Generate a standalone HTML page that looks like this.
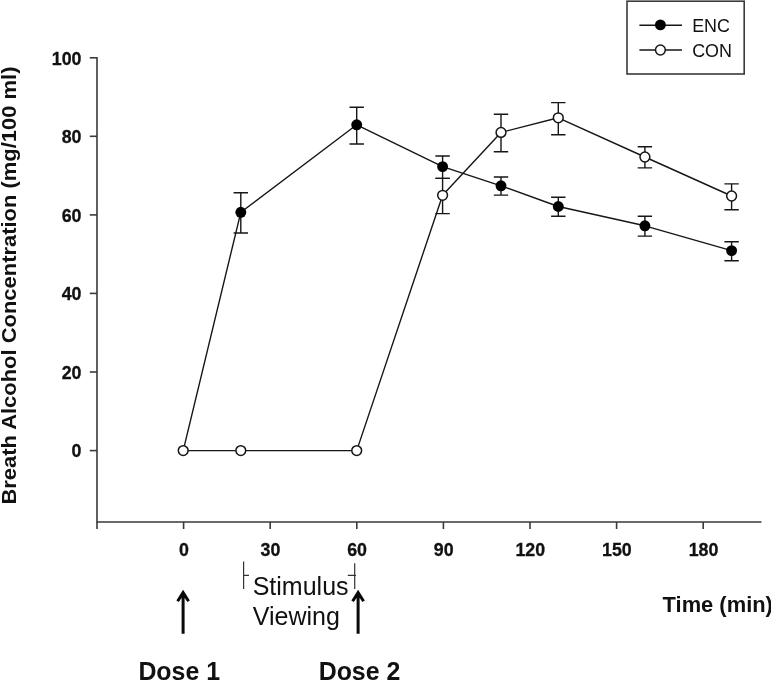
<!DOCTYPE html>
<html><head><meta charset="utf-8"><title>Breath Alcohol Concentration</title>
<style>
html,body{margin:0;padding:0;background:#fff;}
body{width:771px;height:681px;overflow:hidden;}
svg{display:block;}
text{font-family:"Liberation Sans",Arial,Helvetica,sans-serif;fill:#111;}
.b{font-weight:bold;}
.tk{font-size:17.8px;font-weight:bold;stroke:#111;stroke-width:0.3px;}
</style></head><body>
<svg width="771" height="681" viewBox="0 0 771 681">
<rect width="771" height="681" fill="#fff"/>

<g stroke="#3a3a3a" stroke-width="1.6" fill="none">
<path d="M97 57 V522 M96.2 522 H761.5"/>
<path d="M89.8 57.8 H97"/>
<path d="M89.8 136.3 H97"/>
<path d="M89.8 214.9 H97"/>
<path d="M89.8 293.4 H97"/>
<path d="M89.8 372.0 H97"/>
<path d="M89.8 450.6 H97"/>
<path d="M97 522 V529"/>
<path d="M183.6 522 V529"/>
<path d="M270.2 522 V529"/>
<path d="M356.8 522 V529"/>
<path d="M443.4 522 V529"/>
<path d="M530.0 522 V529"/>
<path d="M616.6 522 V529"/>
<path d="M703.2 522 V529"/>
</g>
<text class="tk" x="81.5" y="64.6" text-anchor="end">100</text>
<text class="tk" x="81.5" y="143.2" text-anchor="end">80</text>
<text class="tk" x="81.5" y="221.7" text-anchor="end">60</text>
<text class="tk" x="81.5" y="300.2" text-anchor="end">40</text>
<text class="tk" x="81.5" y="378.8" text-anchor="end">20</text>
<text class="tk" x="81.5" y="457.4" text-anchor="end">0</text>
<text class="tk" x="183.9" y="556.2" text-anchor="middle">0</text>
<text class="tk" x="270.5" y="556.2" text-anchor="middle">30</text>
<text class="tk" x="357.1" y="556.2" text-anchor="middle">60</text>
<text class="tk" x="443.7" y="556.2" text-anchor="middle">90</text>
<text class="tk" x="530.3" y="556.2" text-anchor="middle">120</text>
<text class="tk" x="616.9" y="556.2" text-anchor="middle">150</text>
<text class="tk" x="703.5" y="556.2" text-anchor="middle">180</text>
<g stroke="#161616" stroke-width="1.4" fill="none" stroke-linejoin="round">
<polyline points="183.2,450.6 240.8,212.3 356.7,124.8 442.6,166.6 501.0,185.8 558.3,206.5 644.9,225.8 731.6,250.6"/>
<polyline points="183.2,450.6 240.8,450.6 356.7,450.6 442.6,195.3 501.0,132.4 558.3,117.8 644.9,157.0 731.6,196.0"/>
<path d="M240.8 192.8 V233.0 M233.6 192.8 H248.0 M233.6 233.0 H248.0"/>
<path d="M356.7 107.3 V144.0 M349.5 107.3 H363.9 M349.5 144.0 H363.9"/>
<path d="M442.6 156.0 V178.4 M435.4 156.0 H449.8 M435.4 178.4 H449.8"/>
<path d="M501.0 177.0 V195.1 M493.8 177.0 H508.2 M493.8 195.1 H508.2"/>
<path d="M558.3 197.2 V216.3 M551.1 197.2 H565.5 M551.1 216.3 H565.5"/>
<path d="M644.9 216.3 V236.1 M637.7 216.3 H652.1 M637.7 236.1 H652.1"/>
<path d="M731.6 241.7 V260.7 M724.4 241.7 H738.8 M724.4 260.7 H738.8"/>
<path d="M442.6 178.4 V213.6 M435.4 178.4 H449.8 M435.4 213.6 H449.8"/>
<path d="M501.0 114.3 V151.7 M493.8 114.3 H508.2 M493.8 151.7 H508.2"/>
<path d="M558.3 102.6 V134.7 M551.1 102.6 H565.5 M551.1 134.7 H565.5"/>
<path d="M644.9 146.8 V167.9 M637.7 146.8 H652.1 M637.7 167.9 H652.1"/>
<path d="M731.6 183.9 V209.8 M724.4 183.9 H738.8 M724.4 209.8 H738.8"/>
</g>
<circle cx="240.8" cy="212.3" r="5.45" fill="#000"/>
<circle cx="356.7" cy="124.8" r="5.45" fill="#000"/>
<circle cx="442.6" cy="166.6" r="5.45" fill="#000"/>
<circle cx="501.0" cy="185.8" r="5.45" fill="#000"/>
<circle cx="558.3" cy="206.5" r="5.45" fill="#000"/>
<circle cx="644.9" cy="225.8" r="5.45" fill="#000"/>
<circle cx="731.6" cy="250.6" r="5.45" fill="#000"/>
<circle cx="183.2" cy="450.6" r="4.9" fill="#fff" stroke="#161616" stroke-width="1.5"/>
<circle cx="240.8" cy="450.6" r="4.9" fill="#fff" stroke="#161616" stroke-width="1.5"/>
<circle cx="356.7" cy="450.6" r="4.9" fill="#fff" stroke="#161616" stroke-width="1.5"/>
<circle cx="442.6" cy="195.3" r="4.9" fill="#fff" stroke="#161616" stroke-width="1.5"/>
<circle cx="501.0" cy="132.4" r="4.9" fill="#fff" stroke="#161616" stroke-width="1.5"/>
<circle cx="558.3" cy="117.8" r="4.9" fill="#fff" stroke="#161616" stroke-width="1.5"/>
<circle cx="644.9" cy="157.0" r="4.9" fill="#fff" stroke="#161616" stroke-width="1.5"/>
<circle cx="731.6" cy="196.0" r="4.9" fill="#fff" stroke="#161616" stroke-width="1.5"/>
<rect x="627" y="1.2" width="117.2" height="72.8" fill="#fff" stroke="#3a3a3a" stroke-width="1.6"/>
<path d="M639.4 25.3 H682 M639.4 50 H682" stroke="#161616" stroke-width="1.4"/>
<circle cx="660.4" cy="24.9" r="5.45" fill="#000"/>
<circle cx="660.4" cy="50" r="4.9" fill="#fff" stroke="#161616" stroke-width="1.5"/>
<text x="692.2" y="32.1" font-size="17.9">ENC</text>
<text x="692.2" y="56.9" font-size="17.9">CON</text>
<text class="b" x="662.6" y="612.3" font-size="21.9">Time (min)</text>
<text class="b" transform="translate(16.0 504.6) rotate(-90) scale(1.082 1)" font-size="20.3">Breath Alcohol Concentration (mg/100 ml)</text>
<text x="252.7" y="594.6" font-size="25">Stimulus</text>
<text x="252.8" y="624.7" font-size="25">Viewing</text>
<g stroke="#333" stroke-width="1.2" fill="none"><path d="M243.6 561.4 V589 M243.6 575.3 H249 M354.7 563.2 V589 M347.8 575.3 H356"/></g>
<path d="M183.1 633.8 V593 M177.6 601.2 L183.1 592.6 L188.6 601.2" stroke="#0a0a0a" stroke-width="3" fill="none" stroke-linecap="butt" stroke-linejoin="miter"/>
<path d="M358.1 633.8 V593 M352.6 601.2 L358.1 592.6 L363.6 601.2" stroke="#0a0a0a" stroke-width="3" fill="none" stroke-linecap="butt" stroke-linejoin="miter"/>
<text class="b" x="138.4" y="679.6" font-size="24.9">Dose 1</text>
<text class="b" x="318.7" y="679.6" font-size="24.9">Dose 2</text>
</svg></body></html>
